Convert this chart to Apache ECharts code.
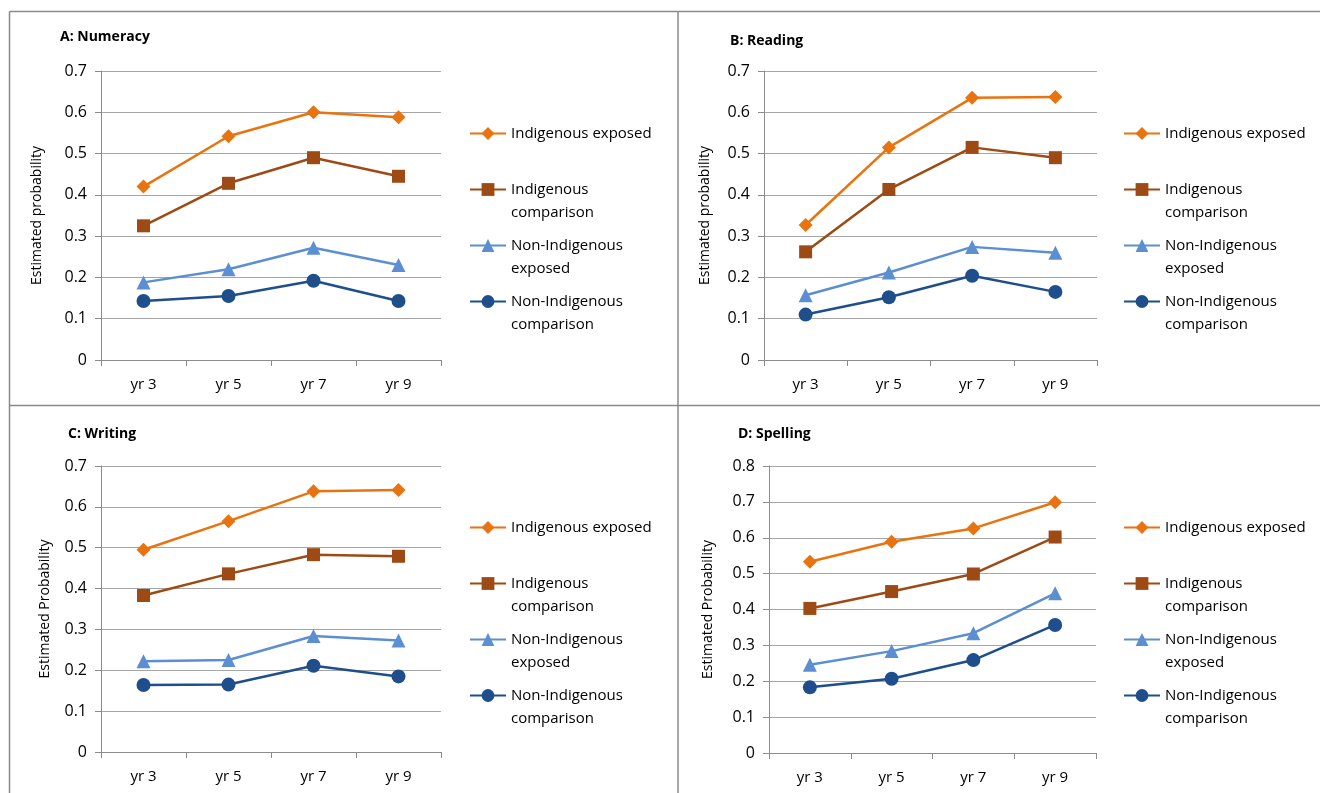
<!DOCTYPE html>
<html>
<head>
<meta charset="utf-8">
<script src="https://cdn.jsdelivr.net/npm/echarts@6/dist/echarts.min.js"></script>
<style>
  html, body { margin: 0; padding: 0; background: #fff; }
  #main { width: 1320px; height: 793px; }
</style>
</head>
<body>
<div id="main"></div>
<script>
  // categories and series names
  var years = ['yr 3', 'yr 5', 'yr 7', 'yr 9'];
  var names = ['Indigenous exposed', 'Indigenous comparison', 'Non-Indigenous exposed', 'Non-Indigenous comparison'];

  // A: Numeracy
  var numIndExp = [0.42, 0.542, 0.600, 0.588];
  var numIndCmp = [0.325, 0.428, 0.490, 0.445];
  var numNonExp = [0.188, 0.220, 0.272, 0.230];
  var numNonCmp = [0.143, 0.155, 0.192, 0.143];

  // B: Reading
  var readIndExp = [0.327, 0.515, 0.635, 0.637];
  var readIndCmp = [0.262, 0.413, 0.515, 0.490];
  var readNonExp = [0.157, 0.212, 0.274, 0.260];
  var readNonCmp = [0.110, 0.152, 0.204, 0.165];

  // C: Writing
  var writIndExp = [0.495, 0.565, 0.638, 0.641];
  var writIndCmp = [0.383, 0.436, 0.483, 0.479];
  var writNonExp = [0.222, 0.225, 0.284, 0.273];
  var writNonCmp = [0.164, 0.165, 0.211, 0.185];

  // D: Spelling
  var spelIndExp = [0.533, 0.589, 0.626, 0.699];
  var spelIndCmp = [0.403, 0.450, 0.499, 0.602];
  var spelNonExp = [0.246, 0.284, 0.334, 0.445];
  var spelNonCmp = [0.183, 0.207, 0.259, 0.357];

  var colors = ['#E8730F', '#9E4A14', '#5B8FD2', '#1F4E8C'];
  var symbols = ['diamond', 'rect', 'triangle', 'circle'];
  var symSizes = [14, 13, 14, 14];
  var font = 'Open Sans, Noto Sans, sans-serif';

  // panel layout
  var panels = [
    { title: 'A: Numeracy', tx: 60, ty: 30, left: 101, top: 71, w: 340, h: 289, max: 0.7, yname: 'Estimated probability', nx: 37,
      lx: 469, ly: 133, data: [numIndExp, numIndCmp, numNonExp, numNonCmp] },
    { title: 'B: Reading', tx: 730, ty: 34, left: 764, top: 71, w: 333, h: 289, max: 0.7, yname: 'Estimated probability', nx: 705,
      lx: 1123, ly: 133, data: [readIndExp, readIndCmp, readNonExp, readNonCmp] },
    { title: 'C: Writing', tx: 68, ty: 427, left: 101, top: 466, w: 340, h: 286, max: 0.7, yname: 'Estimated Probability', nx: 45,
      lx: 469, ly: 527, data: [writIndExp, writIndCmp, writNonExp, writNonCmp] },
    { title: 'D: Spelling', tx: 738, ty: 427, left: 769, top: 466, w: 327, h: 287, max: 0.8, yname: 'Estimated Probability', nx: 708,
      lx: 1123, ly: 527, data: [spelIndExp, spelIndCmp, spelNonExp, spelNonCmp] }
  ];

  var grids = [], xAxes = [], yAxes = [], series = [], legends = [], titles = [];
  var legendOffsets = [0, 56, 112, 168];

  panels.forEach(function (p, k) {
    titles.push({
      text: p.title, left: p.tx, top: p.ty, padding: 0,
      textStyle: { fontFamily: font, fontSize: 14, fontWeight: 'bold', color: '#000' }
    });
    grids.push({ left: p.left, top: p.top, width: p.w, height: p.h });
    xAxes.push({
      type: 'category', gridIndex: k, data: years, boundaryGap: true,
      axisLine: { lineStyle: { color: '#8c8c8c', width: 1 } },
      axisTick: { show: true, length: 6, alignWithLabel: false, lineStyle: { color: '#8c8c8c' } },
      axisLabel: { fontFamily: font, fontSize: 15, color: '#000', margin: 17 }
    });
    yAxes.push({
      type: 'value', gridIndex: k, min: 0, max: p.max, interval: 0.1,
      name: p.yname, nameLocation: 'middle', nameRotate: 90, nameGap: p.left - p.nx - 7,
      nameTextStyle: { fontFamily: font, fontSize: 14, color: '#000' },
      axisLine: { show: true, lineStyle: { color: '#8c8c8c', width: 1 } },
      axisTick: { show: true, length: 6, lineStyle: { color: '#8c8c8c' } },
      axisLabel: { fontFamily: font, fontSize: 16, color: '#000', margin: 14,
        formatter: function (v) { return v === 0 ? '0' : v.toFixed(1); } },
      splitLine: { show: true, lineStyle: { color: '#a6a6a6', width: 1 } }
    });
    p.data.forEach(function (vals, i) {
      series.push({
        name: names[i], type: 'line', xAxisIndex: k, yAxisIndex: k, data: vals,
        symbol: symbols[i], symbolSize: symSizes[i], showAllSymbol: true,
        lineStyle: { color: colors[i], width: 2.5 },
        itemStyle: { color: colors[i] },
        animation: false
      });
      var parts = names[i].split(' ');
      var label = i === 0 ? names[i] : ' \n' + parts[0] + '\n' + parts[1];
      legends.push({
        left: p.lx, top: i === 0 ? p.ly - 11 : p.ly + legendOffsets[i] - 34,
        padding: 0, data: [names[i]], itemWidth: 36, itemHeight: 16, itemGap: 4, selectedMode: false,
        formatter: function () { return label; },
        textStyle: { fontFamily: font, fontSize: 15, color: '#000', lineHeight: 23 }
      });
    });
  });

  var chart = echarts.init(document.getElementById('main'));
  chart.setOption({
    animation: false,
    title: titles,
    grid: grids,
    xAxis: xAxes,
    yAxis: yAxes,
    legend: legends,
    series: series,
    graphic: [
      { type: 'line', shape: { x1: 9.5, y1: 11.5, x2: 1320, y2: 11.5 }, style: { stroke: '#8a8a8a', lineWidth: 1.5 } },
      { type: 'line', shape: { x1: 9.5, y1: 11.5, x2: 9.5, y2: 793 }, style: { stroke: '#8a8a8a', lineWidth: 1.5 } },
      { type: 'line', shape: { x1: 678, y1: 11.5, x2: 678, y2: 793 }, style: { stroke: '#8a8a8a', lineWidth: 1.5 } },
      { type: 'line', shape: { x1: 9.5, y1: 405.5, x2: 1320, y2: 405.5 }, style: { stroke: '#8a8a8a', lineWidth: 1.5 } }
    ]
  });
</script>
</body>
</html>
